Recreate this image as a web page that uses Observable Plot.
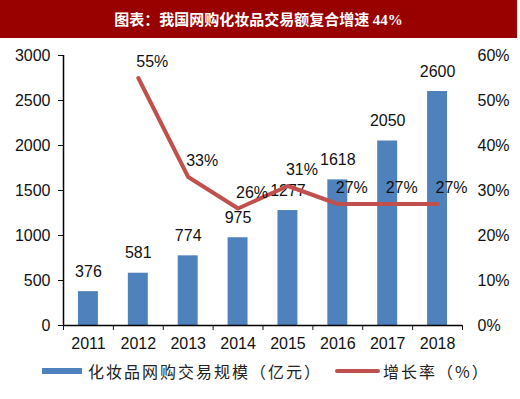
<!DOCTYPE html>
<html><head><meta charset="utf-8">
<script src="https://cdn.jsdelivr.net/npm/d3@7"></script>
<script src="https://cdn.jsdelivr.net/npm/@observablehq/plot@0.6"></script>
<style>
body{margin:0;background:#fff;width:520px;height:399px;overflow:hidden;}
#title{height:38px;width:517px;background:#990000;color:#fff;text-align:center;line-height:38px;font-family:"Noto Sans CJK SC";font-weight:bold;font-size:15px;}
#title .num{font-family:"Liberation Serif";font-weight:bold;font-size:15px;}
#legend{position:absolute;top:360px;left:0;width:520px;height:22px;font-family:"Noto Sans CJK SC";font-size:16px;letter-spacing:2px;color:#222;}
.item{position:absolute;top:0;height:22px;line-height:22px;}
.sw{position:absolute;}
</style></head>
<body>
<div id="title">图表：我国网购化妆品交易额复合增速 <span class="num">44%</span></div>
<div id="chart"></div>
<div id="legend"></div>
<script>
const years = [2011, 2012, 2013, 2014, 2015, 2016, 2017, 2018];
const sales = [376, 581, 774, 975, 1277, 1618, 2050, 2600];
const rateYears = [2012, 2013, 2014, 2015, 2016, 2017, 2018];
const rates = [55, 33, 26, 31, 27, 27, 27];
const leftTicks = [0, 500, 1000, 1500, 2000, 2500, 3000];
const rightTicks = [0, 10, 20, 30, 40, 50, 60];
const seriesNames = ["化妆品网购交易规模（亿元）", "增长率（%）"];

const blue = "#4F81BD", red = "#C0504D";
const ratio = 3000 / 60;
const bars = years.map((y, i) => ({year: y, value: sales[i]}));
const line = rateYears.map((y, i) => ({year: y, rate: rates[i], yv: rates[i] * ratio}));
const bounds = years.map(y => y - 0.5).concat([years[years.length - 1] + 0.5]);

const chart = Plot.plot({
  width: 520, height: 318,
  marginLeft: 63, marginRight: 58, marginTop: 17, marginBottom: 31,
  style: {fontFamily: "Liberation Sans, Arial, sans-serif", fontSize: "16px", color: "#111", background: "transparent"},
  x: {type: "linear", domain: [bounds[0], bounds[bounds.length - 1]]},
  y: {domain: [0, 3000]},
  marks: [
    Plot.rectY(bars, {x1: d => d.year - 0.2, x2: d => d.year + 0.2, y1: 0, y2: "value", fill: blue}),
    Plot.text(bars, {x: "year", y: "value", text: d => String(d.value), dy: -20, fontSize: 16, fill: "#111"}),
    Plot.line(line, {x: "year", y: "yv", stroke: red, strokeWidth: 4}),
    Plot.text(line, {x: "year", y: "yv", text: d => d.rate + "%", dx: 14, dy: -16, fontSize: 16, fill: "#111"}),
    Plot.ruleY([0], {stroke: "#000", strokeWidth: 1.5}),
    Plot.ruleX([bounds[0]], {stroke: "#000", strokeWidth: 1.5}),
    Plot.axisY({ticks: leftTicks, tickSize: 5, tickPadding: 8, tickFormat: d => String(d), label: null, fontSize: 16}),
    Plot.axisY({anchor: "right", ticks: rightTicks.map(t => t * ratio), tickSize: 0, tickPadding: 15, tickFormat: d => (d / ratio) + "%", label: null, fontSize: 16, textAnchor: "start"}),
    Plot.axisX({ticks: bounds, tickSize: 5, tickFormat: () => "", label: null}),
    Plot.axisX({ticks: years, tickSize: 0, tickPadding: 12, tickFormat: d => String(d), label: null, fontSize: 16})
  ]
});
document.getElementById("chart").appendChild(chart);

const lg = document.getElementById("legend");
lg.innerHTML =
  `<div class="sw" style="left:42px;top:8px;width:40px;height:6px;background:${blue}"></div>` +
  `<div class="item" style="left:88px">${seriesNames[0]}</div>` +
  `<div class="sw" style="left:335px;top:9px;width:45px;height:4px;border-radius:2px;background:${red}"></div>` +
  `<div class="item" style="left:383px">${seriesNames[1]}</div>`;
</script>
</body></html>
